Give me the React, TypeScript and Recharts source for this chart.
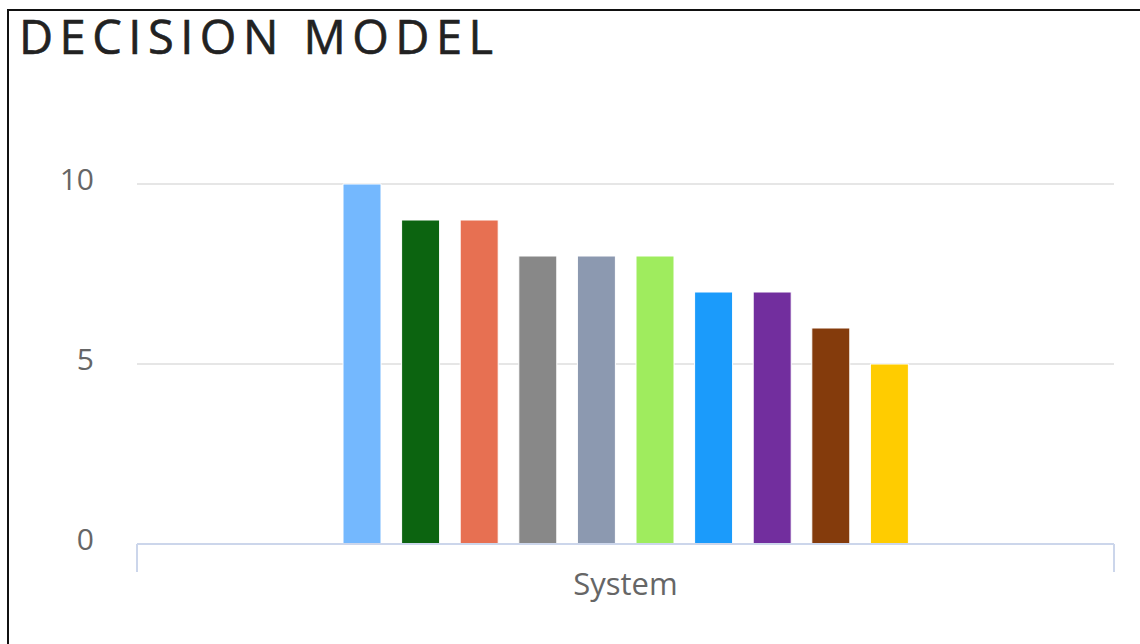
import { BarChart, Bar, XAxis, YAxis, CartesianGrid } from "recharts";

// --- data ---
const CATEGORIES = ["System"];
const SERIES_NAMES = [
  "Series 1",
  "Series 2",
  "Series 3",
  "Series 4",
  "Series 5",
  "Series 6",
  "Series 7",
  "Series 8",
  "Series 9",
  "Series 10",
];
const SERIES_VALUES = [10, 9, 9, 8, 8, 8, 7, 7, 6, 5];
const SERIES_COLORS = [
  "#74b8fe",
  "#0c6410",
  "#e77052",
  "#888888",
  "#8c99b0",
  "#9fec5e",
  "#1b9bfb",
  "#722e9e",
  "#843b0c",
  "#ffcc00",
];
const Y_TICKS = [0, 5, 10];

const data = CATEGORIES.map((name) => {
  const row: Record<string, string | number> = { name };
  SERIES_NAMES.forEach((s, i) => {
    row[s] = SERIES_VALUES[i];
  });
  return row;
});

// --- layout ---
const CHART_W = 1140;
const CHART_H = 644;
const MARGIN = { top: 184, right: 26, bottom: 40, left: 1 };
const Y_AXIS_W = 136;
const PLOT_W = CHART_W - MARGIN.left - MARGIN.right - Y_AXIS_W;

const FONT = "'Open Sans', 'DejaVu Sans', sans-serif";
const AXIS_COLOR = "#ccd6eb";

const YTick = ({ x, y, payload }: any) => (
  <text x={x} y={y + 6} textAnchor="end" fill="#666" fontSize={30} fontFamily={FONT}>
    {payload.value}
  </text>
);

// ticks sit on the edges of the (single) category band, label in the middle
const XTick = ({ x, y, payload }: any) => {
  const half = PLOT_W / 2;
  return (
    <g>
      <line x1={x - half} x2={x - half} y1={y} y2={y + 28} stroke={AXIS_COLOR} strokeWidth={2} />
      <line x1={x + half} x2={x + half} y1={y} y2={y + 28} stroke={AXIS_COLOR} strokeWidth={2} />
      <text x={x} y={y + 51} textAnchor="middle" fill="#666" fontSize={31} fontFamily={FONT}>
        {payload.value}
      </text>
    </g>
  );
};

export default function App() {
  return (
    <div
      style={{
        position: "absolute",
        left: 0,
        top: 0,
        width: CHART_W,
        height: CHART_H,
        overflow: "hidden",
        background: "#fff",
      }}
    >
      {/* frame */}
      <div
        style={{
          position: "absolute",
          left: 7,
          top: 9,
          width: 1300,
          height: 800,
          borderTop: "2px solid #111",
          borderLeft: "2px solid #111",
        }}
      />

      <svg width={CHART_W} height={80} style={{ position: "absolute", left: 0, top: 0 }}>
        <text
          x={19}
          y={54}
          fill="#222"
          fontSize={47}
          fontFamily={FONT}
          letterSpacing={6.5}
          stroke="#222"
          strokeWidth={0.6}
        >
          DECISION MODEL
        </text>
      </svg>

      <div style={{ position: "absolute", left: 0, top: 0 }}>
        <BarChart
          width={CHART_W}
          height={CHART_H}
          data={data}
          margin={MARGIN}
          barSize={38}
          barGap={20.6}
        >
          <CartesianGrid vertical={false} stroke="#e6e6e6" strokeWidth={2} />
          <XAxis
            dataKey="name"
            height={60}
            axisLine={{ stroke: AXIS_COLOR, strokeWidth: 2 }}
            tickLine={false}
            tickSize={0}
            tickMargin={0}
            tick={<XTick />}
          />
          <YAxis
            width={Y_AXIS_W}
            domain={[0, 10]}
            ticks={Y_TICKS}
            axisLine={false}
            tickLine={false}
            tickSize={0}
            tickMargin={43}
            tick={<YTick />}
          />
          {SERIES_NAMES.map((s, i) => (
            <Bar
              key={s}
              dataKey={s}
              fill={SERIES_COLORS[i]}
              stroke="#ffffff"
              strokeWidth={1}
              isAnimationActive={false}
            />
          ))}
        </BarChart>
      </div>
    </div>
  );
}
